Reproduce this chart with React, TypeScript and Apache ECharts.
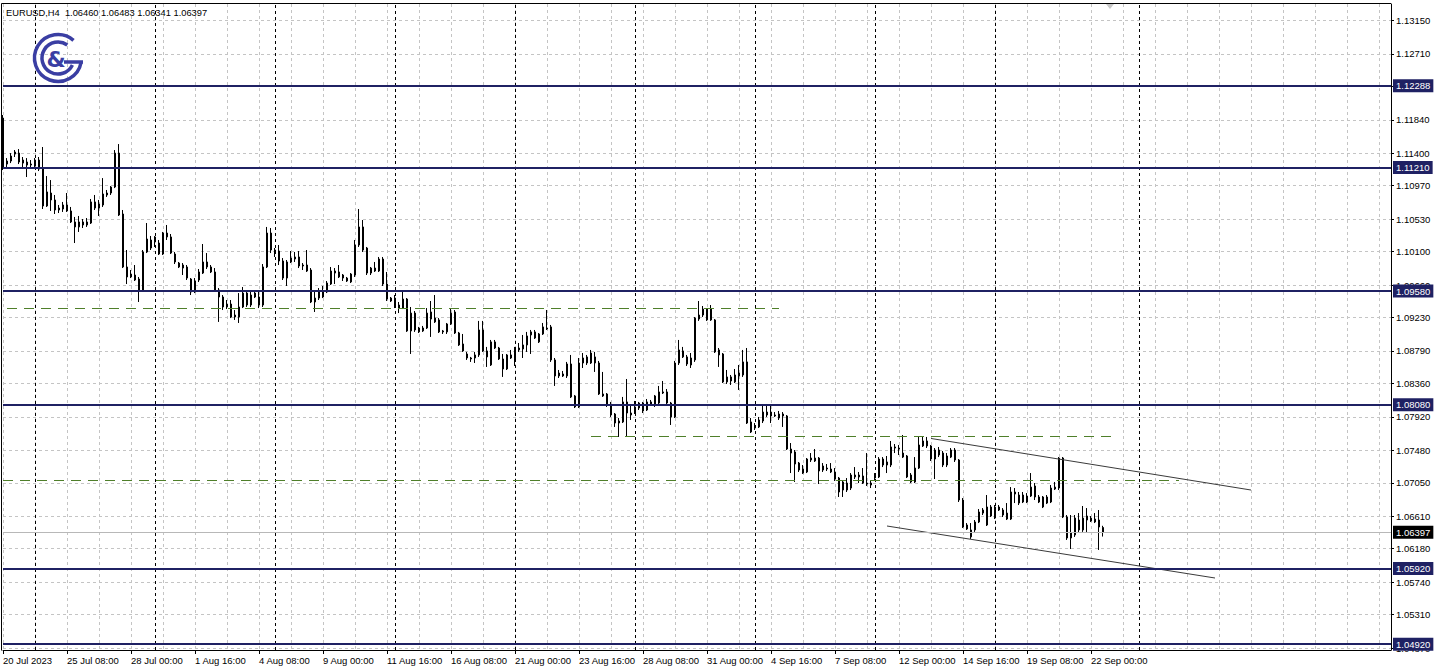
import React, { useEffect, useRef } from 'react';
import * as echarts from 'echarts';

const FONT = 'Tahoma, "Liberation Sans", "DejaVu Sans", sans-serif';
const FS = 9.5;

const titleText = 'EURUSD,H4  1.06460 1.06483 1.06341 1.06397';

const opens = [
  1.11863,1.11256,1.11296,1.11388,1.11401,1.11309,1.11283,1.11256,1.11230,1.11309,
  1.11203,1.10703,1.10874,1.10782,1.10650,1.10663,1.10716,1.10637,1.10492,1.10426,
  1.10492,1.10452,1.10478,1.10756,1.10676,1.10716,1.10848,1.10874,1.10953,1.11401,
  1.10597,1.09898,1.09766,1.09792,1.09739,1.09594,1.10096,1.10254,1.10228,1.10214,
  1.10069,1.10346,1.10294,1.10069,1.09950,1.09924,1.09898,1.09739,1.09568,1.09726,
  1.09818,1.09964,1.09898,1.09832,1.09594,1.09502,1.09370,1.09409,1.09264,1.09238,
  1.09370,1.09554,1.09396,1.09554,1.09502,1.09396,1.09898,1.10346,1.10122,1.10109,
  1.09977,1.09752,1.09964,1.10003,1.10030,1.09924,1.09924,1.09858,1.09436,1.09488,
  1.09502,1.09568,1.09673,1.09818,1.09832,1.09792,1.09752,1.09700,1.09792,1.10188,
  1.10426,1.10148,1.09818,1.09884,1.09845,1.10003,1.09673,1.09488,1.09488,1.09396,
  1.09356,1.09475,1.09054,1.09290,1.09041,1.09054,1.09093,1.09211,1.09224,1.09199,
  1.09054,1.09041,1.09146,1.09304,1.09027,1.08882,1.08750,1.08697,1.08697,1.08737,
  1.09067,1.08790,1.08605,1.08909,1.08829,1.08684,1.08552,1.08737,1.08684,1.08803,
  1.08816,1.08869,1.09001,1.09041,1.08909,1.09014,1.09093,1.09107,1.08671,1.08460,
  1.08486,1.08460,1.08618,1.08196,1.08051,1.08631,1.08631,1.08631,1.08711,1.08631,
  1.08222,1.08222,1.08090,1.07958,1.07839,1.07853,1.08117,1.07945,1.07971,1.08037,
  1.08103,1.08011,1.08077,1.08077,1.08103,1.08235,1.08249,1.08103,1.07919,1.08631,
  1.08711,1.08711,1.08697,1.08671,1.09211,1.09264,1.09199,1.09343,1.09199,1.08803,
  1.08750,1.08381,1.08447,1.08381,1.08460,1.08473,1.08645,1.07853,1.07773,1.07787,
  1.07866,1.07984,1.07984,1.07945,1.07905,1.07958,1.07932,1.07496,1.07457,1.07311,
  1.07232,1.07193,1.07351,1.07338,1.07377,1.07219,1.07245,1.07232,1.07193,1.07113,
  1.06955,1.07047,1.06981,1.07153,1.07127,1.07140,1.07047,1.07047,1.07113,1.07127,
  1.07364,1.07285,1.07285,1.07509,1.07509,1.07443,1.07404,1.07153,1.07061,1.07245,
  1.07536,1.07602,1.07536,1.07483,1.07483,1.07443,1.07285,1.07390,1.07483,1.07351,
  1.06823,1.06493,1.06336,1.06428,1.06533,1.06651,1.06493,1.06612,1.06585,1.06691,
  1.06691,1.06651,1.06572,1.06929,1.06783,1.06889,1.06797,1.06876,1.07008,1.06863,
  1.06731,1.06863,1.06797,1.06968,1.06981,1.07377,1.06599,1.06322,1.06362,1.06559,
  1.06428,1.06612,1.06546,1.06533,1.06559,1.06460,
];

const highs = [
  1.11903,1.11335,1.11401,1.11441,1.11454,1.11349,1.11335,1.11309,1.11335,1.11349,
  1.11481,1.11098,1.11045,1.10848,1.10716,1.10756,1.10874,1.10690,1.10558,1.10571,
  1.10531,1.10544,1.10795,1.10848,1.10782,1.11071,1.10914,1.10966,1.11441,1.11520,
  1.10650,1.10122,1.09858,1.09924,1.09766,1.10122,1.10478,1.10307,1.10307,1.10254,
  1.10360,1.10452,1.10333,1.10096,1.09964,1.09950,1.09924,1.09752,1.09752,1.09871,
  1.10201,1.10082,1.09924,1.09884,1.09620,1.09528,1.09462,1.09462,1.09330,1.09554,
  1.09634,1.09594,1.09568,1.09594,1.09568,1.09937,1.10426,1.10412,1.10148,1.10188,
  1.10016,1.09990,1.10109,1.10096,1.10109,1.09950,1.10122,1.09884,1.09568,1.09620,
  1.09647,1.09713,1.09898,1.09884,1.09924,1.09805,1.09766,1.09818,1.10254,1.10663,
  1.10518,1.10162,1.09898,1.09964,1.10030,1.10030,1.09832,1.09502,1.09528,1.09436,
  1.09594,1.09488,1.09370,1.09317,1.09107,1.09120,1.09356,1.09449,1.09528,1.09224,
  1.09067,1.09159,1.09343,1.09330,1.09041,1.09014,1.08777,1.08711,1.08777,1.09186,
  1.09186,1.08843,1.08935,1.08935,1.08843,1.08750,1.08750,1.08803,1.08843,1.08895,
  1.09001,1.09041,1.09067,1.09067,1.09027,1.09159,1.09330,1.09133,1.08697,1.08539,
  1.08526,1.08645,1.08737,1.08209,1.08697,1.08763,1.08737,1.08803,1.08777,1.08658,
  1.08513,1.08235,1.08117,1.07971,1.07905,1.08183,1.08420,1.08077,1.08130,1.08117,
  1.08117,1.08156,1.08143,1.08209,1.08328,1.08394,1.08288,1.08117,1.08658,1.08935,
  1.08843,1.08737,1.08763,1.09238,1.09449,1.09383,1.09356,1.09396,1.09211,1.08829,
  1.08763,1.08539,1.08473,1.08552,1.08605,1.08803,1.08829,1.07905,1.07839,1.07919,
  1.08090,1.08090,1.08077,1.07984,1.07998,1.07984,1.07945,1.07575,1.07483,1.07325,
  1.07285,1.07377,1.07443,1.07496,1.07390,1.07311,1.07298,1.07311,1.07245,1.07127,
  1.07087,1.07113,1.07179,1.07258,1.07193,1.07245,1.07443,1.07087,1.07179,1.07390,
  1.07390,1.07404,1.07602,1.07562,1.07549,1.07681,1.07417,1.07179,1.07390,1.07655,
  1.07655,1.07655,1.07549,1.07509,1.07523,1.07470,1.07443,1.07509,1.07509,1.07364,
  1.06849,1.06519,1.06519,1.06559,1.06704,1.06717,1.06889,1.06757,1.06757,1.06757,
  1.06717,1.06783,1.06994,1.06981,1.06929,1.06929,1.06915,1.07179,1.07047,1.06889,
  1.06876,1.06889,1.07021,1.07061,1.07390,1.07390,1.06625,1.06625,1.06625,1.06651,
  1.06744,1.06717,1.06612,1.06651,1.06691,1.06483,
];

const lows = [
  1.11177,1.11217,1.11269,1.11349,1.11256,1.11217,1.11085,1.11203,1.11217,1.11164,
  1.10663,1.10690,1.10637,1.10597,1.10610,1.10624,1.10624,1.10478,1.10214,1.10360,
  1.10412,1.10426,1.10465,1.10650,1.10571,1.10690,1.10822,1.10848,1.10939,1.10571,
  1.09884,1.09673,1.09752,1.09713,1.09436,1.09568,1.10082,1.10122,1.10162,1.10056,
  1.10056,1.10254,1.10069,1.09937,1.09884,1.09792,1.09726,1.09528,1.09554,1.09700,
  1.09805,1.09871,1.09818,1.09568,1.09173,1.09330,1.09343,1.09224,1.09199,1.09159,
  1.09356,1.09370,1.09370,1.09488,1.09356,1.09370,1.09884,1.10082,1.10030,1.09924,
  1.09726,1.09647,1.09950,1.09964,1.09884,1.09858,1.09832,1.09422,1.09304,1.09462,
  1.09488,1.09554,1.09660,1.09673,1.09752,1.09713,1.09700,1.09686,1.09766,1.10162,
  1.10096,1.09792,1.09792,1.09832,1.09832,1.09647,1.09449,1.09436,1.09356,1.09290,
  1.09343,1.09041,1.08750,1.09041,1.09027,1.09041,1.09080,1.08975,1.09159,1.09027,
  1.09014,1.09014,1.09133,1.09014,1.08856,1.08777,1.08671,1.08645,1.08631,1.08711,
  1.08777,1.08579,1.08592,1.08816,1.08671,1.08447,1.08539,1.08684,1.08592,1.08777,
  1.08697,1.08777,1.08750,1.08948,1.08895,1.09001,1.09067,1.08645,1.08328,1.08433,
  1.08447,1.08433,1.08169,1.08037,1.08037,1.08565,1.08605,1.08618,1.08513,1.08209,
  1.08183,1.08051,1.07919,1.07787,1.07655,1.07839,1.07655,1.07879,1.07958,1.08011,
  1.07971,1.07998,1.08064,1.08051,1.08090,1.08222,1.08090,1.07813,1.07905,1.08605,
  1.08697,1.08592,1.08565,1.08645,1.09186,1.09238,1.09186,1.09186,1.08763,1.08579,
  1.08367,1.08354,1.08341,1.08367,1.08275,1.08447,1.07826,1.07707,1.07747,1.07773,
  1.07839,1.07919,1.07839,1.07919,1.07879,1.07787,1.07483,1.07179,1.07061,1.07193,
  1.07166,1.07179,1.07325,1.07325,1.07034,1.07193,1.07206,1.07179,1.07074,1.06863,
  1.06863,1.06929,1.06955,1.07100,1.07047,1.07034,1.07008,1.06981,1.07087,1.07113,
  1.07258,1.07179,1.07258,1.07443,1.07417,1.07377,1.07113,1.07047,1.07047,1.07232,
  1.07523,1.07509,1.07338,1.07100,1.07390,1.07258,1.07258,1.07377,1.07325,1.06797,
  1.06454,1.06428,1.06309,1.06402,1.06519,1.06625,1.06480,1.06599,1.06572,1.06678,
  1.06599,1.06559,1.06559,1.06783,1.06757,1.06783,1.06783,1.06863,1.06823,1.06783,
  1.06717,1.06770,1.06783,1.06955,1.06955,1.06585,1.06296,1.06177,1.06336,1.06388,
  1.06402,1.06388,1.06533,1.06519,1.06164,1.06341,
];

const closes = [
  1.11217,1.11296,1.11362,1.11415,1.11283,1.11269,1.11243,1.11243,1.11309,1.11190,
  1.10703,1.10888,1.10782,1.10650,1.10676,1.10716,1.10637,1.10492,1.10426,1.10492,
  1.10452,1.10492,1.10756,1.10676,1.10729,1.10861,1.10874,1.10953,1.11401,1.10584,
  1.09898,1.09766,1.09805,1.09726,1.09594,1.10096,1.10267,1.10148,1.10294,1.10069,
  1.10346,1.10294,1.10082,1.09964,1.09898,1.09884,1.09752,1.09568,1.09713,1.09832,
  1.09964,1.09898,1.09832,1.09594,1.09502,1.09370,1.09409,1.09238,1.09238,1.09370,
  1.09554,1.09396,1.09528,1.09502,1.09396,1.09898,1.10346,1.10122,1.10096,1.09977,
  1.09752,1.09964,1.10016,1.10030,1.09911,1.09911,1.09845,1.09436,1.09488,1.09568,
  1.09581,1.09686,1.09845,1.09845,1.09766,1.09752,1.09713,1.09805,1.10188,1.10426,
  1.10122,1.09818,1.09884,1.09845,1.10003,1.09673,1.09475,1.09449,1.09370,1.09356,
  1.09475,1.09054,1.09290,1.09067,1.09093,1.09093,1.09290,1.09304,1.09173,1.09041,
  1.09041,1.09146,1.09290,1.09027,1.08869,1.08790,1.08697,1.08684,1.08737,1.09067,
  1.08790,1.08711,1.08909,1.08829,1.08684,1.08552,1.08737,1.08697,1.08816,1.08829,
  1.08869,1.08988,1.09041,1.08961,1.09014,1.09107,1.09080,1.08671,1.08460,1.08499,
  1.08460,1.08618,1.08183,1.08051,1.08631,1.08697,1.08711,1.08763,1.08631,1.08222,
  1.08196,1.08077,1.07945,1.07839,1.07866,1.08117,1.07971,1.07971,1.08051,1.08103,
  1.07998,1.08117,1.08117,1.08196,1.08249,1.08249,1.08103,1.07919,1.08631,1.08803,
  1.08790,1.08618,1.08605,1.09224,1.09264,1.09343,1.09343,1.09199,1.08777,1.08737,
  1.08381,1.08447,1.08394,1.08473,1.08499,1.08645,1.07839,1.07721,1.07800,1.07879,
  1.07984,1.07945,1.07932,1.07932,1.07958,1.07932,1.07496,1.07443,1.07298,1.07219,
  1.07179,1.07364,1.07377,1.07377,1.07206,1.07272,1.07232,1.07193,1.07100,1.06929,
  1.07061,1.06955,1.07153,1.07127,1.07153,1.07047,1.07034,1.07021,1.07140,1.07364,
  1.07285,1.07325,1.07523,1.07523,1.07496,1.07390,1.07127,1.07061,1.07245,1.07549,
  1.07602,1.07536,1.07364,1.07364,1.07417,1.07285,1.07404,1.07483,1.07351,1.06823,
  1.06467,1.06441,1.06428,1.06533,1.06665,1.06691,1.06731,1.06731,1.06731,1.06731,
  1.06625,1.06572,1.06929,1.06902,1.06889,1.06797,1.06876,1.06994,1.06863,1.06797,
  1.06863,1.06783,1.06981,1.06994,1.07377,1.06599,1.06322,1.06388,1.06585,1.06428,
  1.06585,1.06559,1.06585,1.06572,1.06467,1.06397,
];

// time axis: one label every 16 H4 bars (first bar = 20 Jul 2023 16:00)
const timeLabels = [
  '20 Jul 2023', '25 Jul 08:00', '28 Jul 00:00', '1 Aug 16:00', '4 Aug 08:00', '9 Aug 00:00',
  '11 Aug 16:00', '16 Aug 08:00', '21 Aug 00:00', '23 Aug 16:00', '28 Aug 08:00', '31 Aug 00:00',
  '4 Sep 16:00', '7 Sep 08:00', '12 Sep 00:00', '14 Sep 16:00', '19 Sep 08:00', '22 Sep 00:00',
];
const LABEL_EVERY = 16;
const GRID_EVERY = 8;
const TOTAL_SLOTS = 348; // bars + right-side shift area

// price scale grid values and the labels that are not hidden behind a level tag
const priceTicks = [
  1.0487, 1.0531, 1.0574, 1.0618, 1.0661, 1.0705, 1.0748, 1.0792, 1.0836, 1.0879,
  1.0923, 1.0966, 1.1010, 1.1053, 1.1097, 1.1140, 1.1184, 1.1228, 1.1271, 1.1315,
];
const priceLabels = [
  1.0487, 1.0531, 1.0574, 1.0618, 1.0661, 1.0705, 1.0748, 1.0792, 1.0836, 1.0879,
  1.0923, 1.0966, 1.1010, 1.1053, 1.1097, 1.1140, 1.1184, 1.1271, 1.1315,
];
const priceMin = 1.04844;
const priceMax = 1.13368;

// horizontal support / resistance levels
const levels = [1.12288, 1.1121, 1.0958, 1.0808, 1.0592, 1.0492];
const lastPrice = 1.06397;

// weekly period separators (bar indices of Monday 00:00)
const weekStarts = [8, 38, 68, 98, 128, 158, 188, 218, 248, 284];

// dashed green levels: price, first bar, last bar
const greenPrices = [1.0935, 1.0766, 1.0708];
const greenFrom = [1, 147, 0];
const greenTo = [194, 277, 294];

// descending channel lines [bar, price]
const channelUpper = [[232, 1.07635], [312, 1.06955]];
const channelLower = [[221, 1.0648], [303, 1.05794]];

const NAVY = '#1f2163';
const GREEN = '#4f7f2a';
const GRID_GRAY = '#c4c4c4';
const LOGO = '#3a3ea3';

function buildOption() {
  const slots = Array.from({ length: TOTAL_SLOTS }, (_, i) => String(i));
  const candles = opens.map((o, i) => [o, closes[i], lows[i], highs[i]]);
  const lastLabelIdx = (timeLabels.length - 1) * LABEL_EVERY;

  const markData: any[] = [];
  weekStarts.forEach((w) => {
    markData.push({
      xAxis: w,
      lineStyle: { color: '#000', width: 1, type: [3, 3] },
      label: { show: false },
    });
  });
  greenPrices.forEach((p, k) => {
    markData.push([
      { coord: [greenFrom[k], p], lineStyle: { color: GREEN, width: 1, type: [10, 7] }, label: { show: false } },
      { coord: [greenTo[k], p] },
    ]);
  });
  [channelUpper, channelLower].forEach((ln) => {
    markData.push([
      { coord: ln[0], lineStyle: { color: '#3a3a3a', width: 1, type: 'solid' }, label: { show: false } },
      { coord: ln[1] },
    ]);
  });
  markData.push({
    yAxis: lastPrice,
    lineStyle: { color: '#b8b8b8', width: 1, type: 'solid' },
    label: {
      show: true, position: 'end', distance: 2, formatter: lastPrice.toFixed(5),
      color: '#fff', backgroundColor: '#000', padding: [2, 3, 1, 3],
      fontSize: FS, fontFamily: FONT,
    },
  });
  levels.forEach((v) => {
    markData.push({
      yAxis: v,
      lineStyle: { color: NAVY, width: 2, type: 'solid' },
      label: {
        show: true, position: 'end', distance: 2, formatter: v.toFixed(5),
        color: '#fff', backgroundColor: NAVY, padding: [2, 3, 1, 3],
        fontSize: FS, fontFamily: FONT,
      },
    });
  });

  return {
    animation: false,
    backgroundColor: '#fff',
    grid: { left: 3, right: 47, top: 4, bottom: 21, containLabel: false },
    xAxis: {
      type: 'category',
      data: slots,
      boundaryGap: false,
      axisLine: { show: true, lineStyle: { color: '#000', width: 1 } },
      axisTick: {
        show: true,
        length: 4,
        interval: (i: number) => i % LABEL_EVERY === 0 && i <= lastLabelIdx,
        lineStyle: { color: '#000' },
      },
      axisLabel: {
        interval: LABEL_EVERY - 1,
        formatter: (v: string) => {
          const i = Number(v);
          if (i % LABEL_EVERY !== 0) return '';
          return timeLabels[i / LABEL_EVERY] ?? '';
        },
        align: 'left',
        margin: 5,
        color: '#000',
        fontSize: FS,
        fontFamily: FONT,
      },
      splitLine: {
        show: true,
        interval: (i: number) => i % GRID_EVERY === 0,
        lineStyle: { color: GRID_GRAY, type: [3, 3], width: 1 },
      },
    },
    yAxis: {
      type: 'value',
      position: 'right',
      min: priceMin,
      max: priceMax,
      scale: true,
      axisLine: { show: true, lineStyle: { color: '#000', width: 1 } },
      axisTick: { show: true, length: 3, customValues: priceTicks, lineStyle: { color: '#000' } },
      axisLabel: {
        customValues: priceLabels,
        formatter: (v: number) => v.toFixed(5),
        margin: 5,
        color: '#000',
        fontSize: FS,
        fontFamily: FONT,
      },
      splitLine: { show: true, lineStyle: { color: GRID_GRAY, type: [3, 3], width: 1 } },
    },
    series: [
      {
        type: 'candlestick',
        data: candles,
        barWidth: 2,
        itemStyle: {
          color: '#fff',
          color0: '#000',
          borderColor: '#000',
          borderColor0: '#000',
          borderWidth: 1,
        },
        markLine: {
          silent: true,
          precision: 6,
          symbol: ['none', 'none'],
          animation: false,
          data: markData,
        },
      },
    ],
    graphic: [
      {
        type: 'line', z: 100, silent: true,
        shape: { x1: 1.5, y1: 3.5, x2: 1.5, y2: 650.5 },
        style: { stroke: '#000', lineWidth: 1 },
      },
      {
        type: 'line', z: 100, silent: true,
        shape: { x1: 1.5, y1: 3.5, x2: 1391, y2: 3.5 },
        style: { stroke: '#000', lineWidth: 1 },
      },
      {
        type: 'text', z: 100, silent: true,
        x: 6, y: 13,
        style: { text: titleText, fill: '#000', fontSize: 9.3, fontFamily: FONT, verticalAlign: 'middle', align: 'left' },
      },
      {
        type: 'polygon', z: 100, silent: true,
        shape: { points: [[1106, 4], [1114, 4], [1110, 9]] },
        style: { fill: '#c8c8c8' },
      },
      {
        type: 'group', z: 100, silent: true,
        children: [
          {
            type: 'arc', z: 100,
            shape: { cx: 58, cy: 58, r: 23.5, startAngle: 0.18, endAngle: -0.85, clockwise: true },
            style: { stroke: LOGO, lineWidth: 3.5, fill: 'none' },
          },
          {
            type: 'arc', z: 100,
            shape: { cx: 58, cy: 58, r: 16, startAngle: 0.45, endAngle: -0.95, clockwise: true },
            style: { stroke: LOGO, lineWidth: 3.5, fill: 'none' },
          },
          {
            type: 'line', z: 100,
            shape: { x1: 64, y1: 62, x2: 83, y2: 62 },
            style: { stroke: LOGO, lineWidth: 3.5 },
          },
          {
            type: 'text', z: 101,
            x: 56, y: 59,
            style: { text: '&', fill: LOGO, fontSize: 22, fontWeight: 'bold', fontFamily: '"DejaVu Sans", sans-serif', align: 'center', verticalAlign: 'middle' },
          },
        ],
      },
    ],
  };
}

export default function App() {
  const ref = useRef<HTMLDivElement>(null);
  useEffect(() => {
    if (!ref.current) return;
    const chart = echarts.init(ref.current, null, { renderer: 'svg' });
    chart.setOption(buildOption() as any);
    return () => chart.dispose();
  }, []);
  return (
    <div
      ref={ref}
      style={{ position: 'absolute', left: 0, top: 0, width: 1438, height: 671, background: '#fff' }}
    />
  );
}
